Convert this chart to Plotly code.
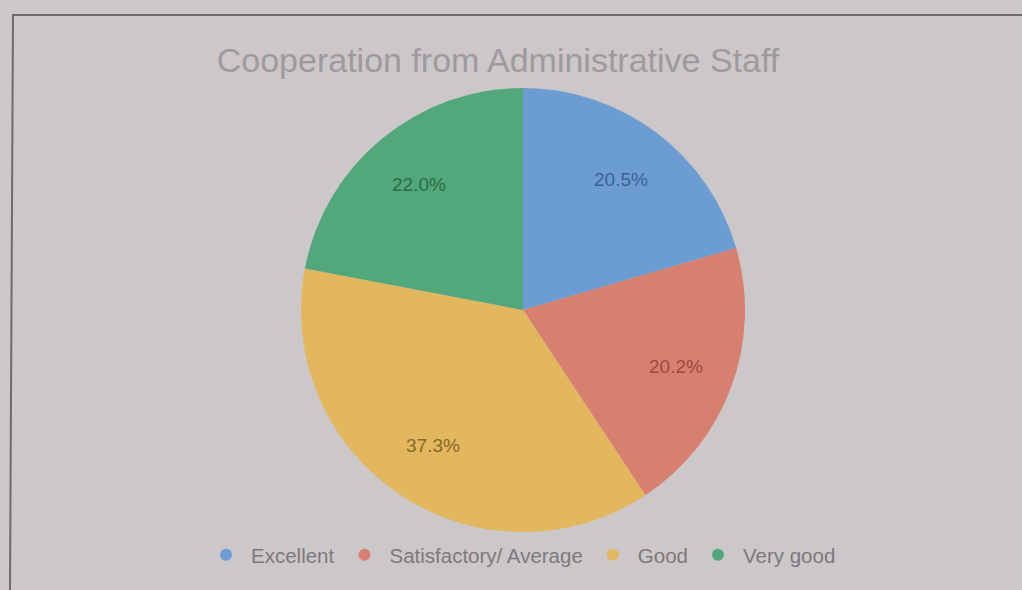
import math
import plotly.graph_objects as go

# Survey responses: cooperation from administrative staff
categories = ["Excellent", "Satisfactory/ Average", "Good", "Very good"]
shares = [20.5, 20.2, 37.3, 22.0]
slice_colors = ["#6b9dd2", "#d7806f", "#e2b75d", "#52a87a"]
label_colors = ["#3f5f92", "#9a4a40", "#86692a", "#2c6b47"]

W, H = 1022, 590
cx, cy, r = 523, 310, 222   # pie centre / radius in px
label_r = 0.735 * r          # radial distance of the percentage labels

FONT = "Liberation Sans, Arial, sans-serif"

fig = go.Figure()

fig.add_trace(go.Pie(
    labels=categories,
    values=shares,
    sort=False,
    direction="clockwise",
    rotation=0,
    marker=dict(colors=slice_colors, line=dict(width=0)),
    textinfo="none",
    showlegend=False,
    hoverinfo="label+percent",
    domain=dict(x=[(cx - r) / W, (cx + r) / W], y=[1 - (cy + r) / H, 1 - (cy - r) / H]),
))

# Percentage labels placed at each slice's mid-angle (clockwise from 12 o'clock)
total = sum(shares)
annotations = []
cum = 0.0
for v, col in zip(shares, label_colors):
    theta = math.radians((cum + v / 2) / total * 360)
    cum += v
    px = cx + label_r * math.sin(theta)
    py = cy - label_r * math.cos(theta)
    annotations.append(dict(
        x=px / W, y=1 - py / H, xref="paper", yref="paper",
        text=f"{v:.1f}%", showarrow=False,
        font=dict(family=FONT, size=19, color=col),
        xanchor="center", yanchor="middle",
    ))

# Legend entries drawn with circular markers
for name, col in zip(categories, slice_colors):
    fig.add_trace(go.Scatter(
        x=[None], y=[None], mode="markers", name=name,
        marker=dict(symbol="circle", size=16, color=col),
        showlegend=True,
    ))

fig.update_layout(
    width=W, height=H,
    margin=dict(l=0, r=0, t=0, b=0),
    paper_bgcolor="#ccc7c9",
    plot_bgcolor="rgba(0,0,0,0)",
    xaxis=dict(visible=False),
    yaxis=dict(visible=False),
    title=dict(
        text="Cooperation from Administrative Staff",
        x=498 / W, xanchor="center",
        y=1 - 60 / H, yanchor="middle",
        font=dict(family=FONT, size=34, color="#9e9a9d"),
    ),
    legend=dict(
        orientation="h",
        x=521 / W, xanchor="center",
        y=1 - 555 / H, yanchor="middle",
        font=dict(family=FONT, size=20.5, color="#7d797b"),
        bgcolor="rgba(0,0,0,0)",
        itemsizing="constant",
        itemwidth=40,
    ),
    annotations=annotations,
    shapes=[
        # frame lines along the top and left edges
        dict(type="line", xref="paper", yref="paper",
             x0=12 / W, y0=1 - 15 / H, x1=1.0, y1=1 - 15 / H,
             line=dict(color="#6e6a6b", width=2)),
        dict(type="line", xref="paper", yref="paper",
             x0=13 / W, y0=1 - 15 / H, x1=10 / W, y1=0,
             line=dict(color="#6e6a6b", width=2)),
    ],
)

fig.write_html("out.html")
